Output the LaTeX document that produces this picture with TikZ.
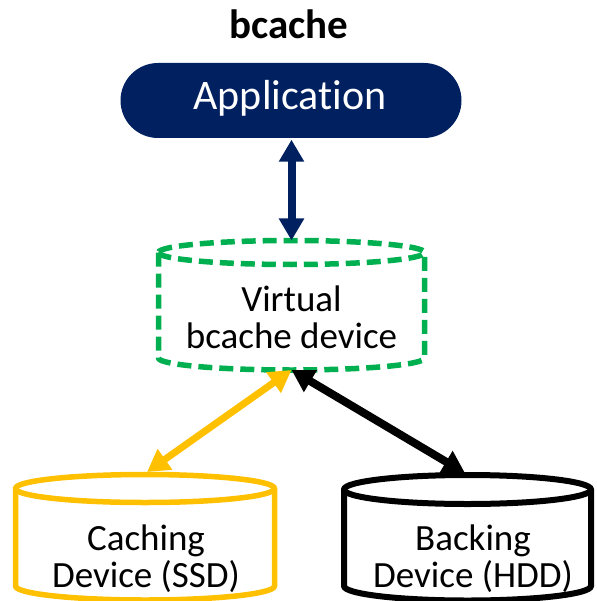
\documentclass[tikz,border=0pt]{standalone}
\usepackage{fontspec}
\setmainfont{Carlito}[Ligatures=NoCommon]
\usetikzlibrary{arrows.meta}
\definecolor{appnavy}{HTML}{002060}
\definecolor{virtgreen}{HTML}{00B050}
\definecolor{ssdgold}{HTML}{FFC000}
\tikzset{
  label37/.style={font=\fontsize{37}{36.5}\selectfont, align=center, anchor=base, inner sep=0pt},
  linkarrow/.style={line width=#1, {Triangle[length=22pt,width=24pt]}-{Triangle[length=22pt,width=24pt]}},
}
\begin{document}
\begin{tikzpicture}[x=1pt, y=-1pt]
  \useasboundingbox (0,0) rectangle (596,601);

  % title
  \node[font=\fontsize{41}{44}\selectfont\bfseries, anchor=base, inner sep=0pt] (title) at (289,39) {bcache};

  % application pill
  \node[fill=appnavy, rounded corners=37.5pt, minimum width=341pt, minimum height=75pt, inner sep=0pt] (app) at (291,100.5) {};
  \node[font=\fontsize{42}{44}\selectfont, text=white, anchor=base, inner sep=0pt] (apptext) at (290,110) {Application};

  % virtual bcache device: dashed cylinder
  \begin{scope}[draw=virtgreen, line width=5.5pt, dash pattern=on 14pt off 7pt]
    \draw (158.5,252.5) -- (158.5,358)
      arc[start angle=180, end angle=360, x radius=133pt, y radius=12pt]
      -- (424.5,252.5)
      arc[start angle=0, end angle=180, x radius=133pt, y radius=12pt] -- cycle;
    \draw (158.5,252.5) arc[start angle=180, end angle=360, x radius=133pt, y radius=12pt];
  \end{scope}
  % multi-line labels sit on the baseline of their last line
  \node[label37] (virt) at (291.5,348) {Virtual\\bcache device};
  \coordinate (virttop) at (291.5,240.5);
  \coordinate (virtbot) at (291.5,370);

  % caching device (SSD)
  \begin{scope}[draw=ssdgold, line width=5.5pt]
    \draw (15.5,488.5) -- (15.5,586)
      arc[start angle=180, end angle=360, x radius=129.5pt, y radius=14pt]
      -- (274.5,488.5)
      arc[start angle=0, end angle=180, x radius=129.5pt, y radius=14pt] -- cycle;
    \draw (15.5,488.5) arc[start angle=180, end angle=360, x radius=129.5pt, y radius=14pt];
  \end{scope}
  \node[label37] (ssd) at (146,587) {Caching\\Device (SSD)};
  \coordinate (ssdtop) at (147,472);

  % backing device (HDD)
  \begin{scope}[draw=black, line width=6pt]
    \draw (344,489.5) -- (344,586)
      arc[start angle=180, end angle=360, x radius=123.5pt, y radius=14.5pt]
      -- (591,489.5)
      arc[start angle=0, end angle=180, x radius=123.5pt, y radius=14.5pt] -- cycle;
    \draw (344,489.5) arc[start angle=180, end angle=360, x radius=123.5pt, y radius=14.5pt];
  \end{scope}
  \node[label37] (hdd) at (473,587) {Backing\\Device (HDD)};
  \coordinate (hddtop) at (465,473);

  % connectors
  \path (app.south) ++(0.5,1.5) coordinate (appbot);
  \draw[linkarrow=8pt, appnavy] (appbot) -- (virttop);
  \draw[linkarrow=7pt, ssdgold] (virtbot) -- (ssdtop);
  \draw[linkarrow=8pt, black] (virtbot) -- (hddtop);
\end{tikzpicture}
\end{document}
